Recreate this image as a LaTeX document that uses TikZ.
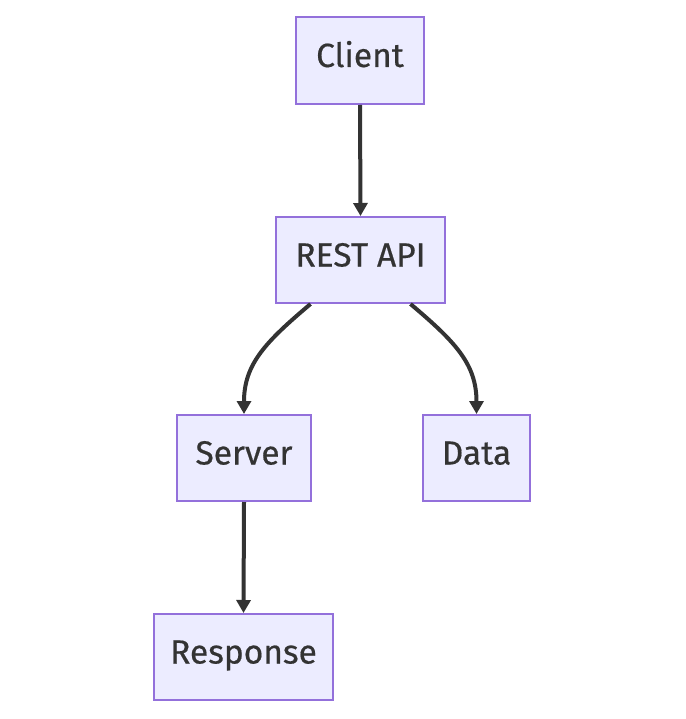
\documentclass[tikz,border=0pt]{standalone}
\usepackage{fontspec}
\setmainfont{Fira Sans}[FakeBold=0.5]
\usetikzlibrary{arrows.meta}
\definecolor{boxfill}{HTML}{ECECFF}
\definecolor{boxline}{HTML}{9370DB}
\definecolor{edgecol}{HTML}{333333}
\begin{document}
\begin{tikzpicture}[x=1pt,y=-1pt,
  box/.style={draw=boxline,fill=boxfill,line width=2pt,inner sep=0pt,font=\fontsize{33.5}{40}\selectfont,text=edgecol,anchor=center,text height=24pt,text depth=11pt},
  edge/.style={draw=edgecol,line width=4pt,-{Triangle[length=13pt,width=14pt]}}]
\useasboundingbox (0,0) rectangle (685,719);
\node[box,minimum width=128,minimum height=87] (client) at (360,60.5) {Client};
\node[box,minimum width=169,minimum height=86] (api) at (360.5,260) {REST API};
\node[box,minimum width=134,minimum height=86] (server) at (244,458) {Server};
\node[box,minimum width=107,minimum height=86] (data) at (476.5,458) {Data};
\node[box,minimum width=179,minimum height=86] (response) at (243.5,657) {Response};
\draw[edge] (client.south) -- (api.north);
\draw[edge] ([xshift=-50]api.south) .. controls +(-45,38) and +(0,-50) .. (server.north);
\draw[edge] ([xshift=50]api.south) .. controls +(45,38) and +(0,-50) .. (data.north);
\draw[edge] (server.south) -- (response.north);
\end{tikzpicture}
\end{document}
